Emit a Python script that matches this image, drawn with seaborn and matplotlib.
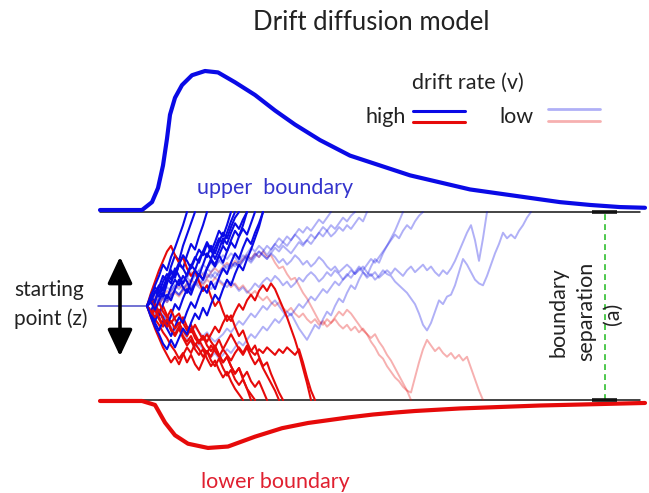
import matplotlib
matplotlib.use("Agg")
import matplotlib.pyplot as plt
import numpy as np
import pandas as pd
import seaborn as sns
from matplotlib.patches import FancyArrowPatch

# ---------------------------------------------------------------
# Model parameters (evidence units: lower bound 0, upper bound a)
# ---------------------------------------------------------------
BOUND_A = 100          # boundary separation (a)
START_Z = 50           # starting point (z)
DT_MS = 8              # sampling step of the evidence traces

# Response-time densities (relative height, upper peak = 1)
UPPER_RT_MS = [-94, -10, 10, 22, 32, 40, 46, 56, 70, 90, 116, 142, 176, 216,
               256, 296, 346, 406, 466, 526, 586, 646, 706, 766, 826, 886,
               946, 996]
UPPER_DENS = [0.014, 0.014, 0.07, 0.17, 0.33, 0.52, 0.69, 0.81, 0.90, 0.97,
              1.0, 0.99, 0.92, 0.83, 0.72, 0.62, 0.51, 0.40, 0.33, 0.26,
              0.21, 0.16, 0.13, 0.10, 0.07, 0.05, 0.035, 0.03]
LOWER_RT_MS = [-94, -10, 16, 36, 56, 82, 122, 162, 216, 270, 322, 402, 452,
               496, 536, 626, 702, 786, 868, 996]
LOWER_DENS = [0.007, 0.007, 0.035, 0.16, 0.25, 0.31, 0.34, 0.33, 0.26, 0.20,
              0.163, 0.124, 0.103, 0.089, 0.078, 0.060, 0.050, 0.039, 0.032,
              0.021]

# Evidence traces, high drift rate, absorbed at the upper bound
HIGH_UP = [
    [50, 55, 52, 60, 66, 63, 71, 77, 74, 82, 88, 94, 100],
    [50, 47, 53, 58, 55, 62, 68, 65, 72, 70, 77, 83, 80, 87, 93, 100],
    [50, 54, 49, 45, 51, 56, 53, 59, 64, 60, 57, 63, 69, 66, 72, 78, 75, 81,
     86, 83, 89, 95, 100],
    [50, 46, 42, 47, 44, 39, 45, 51, 48, 54, 59, 56, 62, 67, 64, 70, 75, 72,
     77, 82, 79, 85, 90, 87, 93, 100],
    [50, 53, 58, 55, 60, 65, 62, 68, 73, 70, 66, 71, 76, 73, 79, 84, 80, 75,
     80, 86, 83, 89, 94, 91, 96, 100],
    [50, 45, 41, 37, 42, 38, 34, 39, 44, 41, 47, 52, 49, 55, 60, 57, 63, 59,
     65, 70, 67, 73, 78, 75, 81, 86, 83, 89, 94, 100],
    [50, 56, 60, 57, 63, 67, 64, 70, 66, 62, 67, 72, 69, 75, 79, 76, 82, 78,
     84, 89, 86, 92, 97, 100],
    [50, 52, 48, 53, 57, 54, 60, 64, 61, 66, 63, 58, 62, 67, 64, 70, 74, 71,
     77, 73, 79, 84, 81, 87, 91, 88, 94, 100],
    [50, 55, 61, 66, 72, 69, 76, 81, 87, 93, 100],
    [50, 44, 39, 35, 30, 27, 32, 28, 33, 38, 35, 41, 46, 43, 49, 45, 51, 56,
     53, 59, 64, 61, 67, 72, 69, 75, 80, 86, 92, 100],
    [50, 53, 57, 61, 58, 64, 69, 66, 72, 77, 74, 70, 75, 80, 77, 83, 79, 84,
     90, 87, 93, 100],
]

# Evidence traces, high drift rate, absorbed at the lower bound
HIGH_DOWN = [
    [50, 45, 48, 43, 39, 42, 37, 34, 38, 33, 29, 32, 27, 24, 27, 22, 18, 21,
     16, 12, 15, 10, 6, 3, 0],
    [50, 54, 51, 47, 50, 45, 41, 44, 46, 41, 37, 40, 35, 31, 34, 29, 26, 29,
     24, 20, 23, 18, 14, 17, 11, 6, 0],
    [50, 57, 63, 69, 74, 79, 82, 77, 73, 76, 70, 66, 69, 63, 58, 61, 55, 50,
     53, 47, 42, 45, 39, 34, 37, 31, 26, 29, 23, 18, 20, 14, 9, 4, 0],
    [50, 47, 43, 40, 36, 33, 29, 26, 22, 25, 20, 24, 19, 16, 21, 26, 23, 28,
     24, 20, 23, 18, 14, 17, 12, 15, 10, 7, 10, 5, 0],
    [50, 44, 38, 33, 28, 24, 20, 23, 19, 24, 28, 25, 30, 27, 23, 26, 21, 18,
     22, 17, 13, 16, 11, 8, 11, 6, 3, 0],
    [50, 53, 49, 52, 47, 44, 48, 43, 40, 44, 39, 36, 40, 36, 32, 35, 31, 28,
     32, 27, 31, 35, 31, 27, 24, 28, 23, 19, 22, 17, 13, 9, 5, 0],
    [50, 47, 44, 48, 43, 39, 42, 38, 41, 37, 34, 38, 33, 30, 34, 31, 35, 39,
     36, 41, 45, 42, 47, 51, 48, 53, 56, 53, 58, 61, 58, 62, 59, 54, 49, 44,
     38, 32, 25, 17, 9, 0],
    [50, 46, 49, 44, 40, 43, 38, 35, 39, 34, 31, 34, 29, 32, 28, 25, 29, 26,
     23, 27, 24, 21, 25, 28, 25, 29, 26, 24, 27, 25, 28, 26, 24, 27, 25, 28,
     26, 24, 27, 20, 12, 5, 0],
]

# Evidence traces, low drift rate, absorbed at the upper bound
LOW_UP = [
    [50, 52, 49, 51, 54, 52, 55, 58, 56, 59, 62, 60, 63, 61, 64, 67, 65, 68,
     66, 69, 72, 70, 73, 71, 74, 77, 75, 78, 76, 79, 82, 80, 83, 86, 84, 87,
     85, 88, 91, 89, 92, 90, 93, 96, 94, 97, 100],
    [50, 53, 51, 54, 57, 55, 58, 61, 59, 62, 65, 63, 66, 69, 67, 70, 68, 71,
     74, 72, 70, 73, 71, 74, 77, 75, 73, 76, 79, 77, 75, 78, 81, 79, 82, 80,
     78, 81, 84, 82, 85, 83, 86, 89, 87, 90, 93, 91, 94, 97, 95, 98, 100],
    [50, 53, 56, 54, 57, 60, 58, 61, 64, 62, 65, 68, 66, 69, 72, 70, 73, 71,
     74, 77, 75, 78, 76, 73, 75, 78, 81, 79, 82, 80, 77, 80, 83, 81, 84, 82,
     85, 88, 86, 83, 85, 88, 86, 89, 92, 90, 87, 89, 92, 90, 93, 91, 94, 97,
     95, 100],
    [50, 48, 46, 48, 45, 43, 45, 42, 40, 42, 39, 37, 39, 36, 34, 36, 33, 31,
     33, 35, 38, 36, 39, 42, 40, 43, 46, 44, 47, 50, 48, 51, 53, 50, 47, 44,
     46, 42, 38, 35, 32, 36, 40, 38, 43, 47, 45, 50, 54, 52, 57, 61, 59, 64,
     68, 66, 71, 75, 73, 78, 82, 86, 90, 95, 100],
    [50, 52, 50, 53, 55, 53, 56, 58, 56, 59, 61, 59, 62, 64, 62, 65, 67, 65,
     68, 70, 68, 71, 73, 71, 74, 76, 74, 77, 79, 77, 75, 78, 76, 73, 75, 72,
     74, 77, 75, 72, 74, 71, 73, 76, 74, 71, 69, 71, 68, 70, 72, 70, 67, 69,
     71, 68, 66, 68, 65, 67, 69, 67, 70, 68, 66, 69, 71, 68, 70, 72, 69, 71,
     68, 66, 69, 67, 70, 74, 79, 84, 89, 93, 85, 74, 86, 100],
    [50, 52, 54, 52, 55, 53, 56, 58, 56, 59, 57, 60, 62, 60, 58, 61, 59, 62,
     64, 62, 60, 63, 61, 58, 60, 57, 59, 62, 60, 63, 65, 63, 66, 64, 61, 63,
     60, 62, 65, 63, 66, 68, 66, 63, 65, 68, 66, 69, 67, 64, 66, 69, 67, 70,
     68, 65, 67, 64, 66, 69, 67, 66, 63, 61, 59, 57, 54, 51, 46, 40, 37, 41,
     47, 53, 51, 55, 56, 61, 68, 75, 72, 68, 64, 62, 61, 66, 72, 78, 83, 89,
     86, 88, 86, 90, 93, 97, 100],
    [50, 48, 45, 43, 45, 42, 39, 37, 39, 36, 33, 31, 28, 30, 27, 25, 23, 25,
     22, 24, 27, 25, 28, 31, 29, 32, 35, 33, 36, 39, 37, 40, 43, 41, 44, 47,
     45, 48, 51, 49, 52, 55, 53, 56, 59, 57, 60, 63, 61, 64, 67, 65, 68, 71,
     69, 72, 75, 73, 76, 79, 82, 85, 88, 86, 90, 93, 91, 95, 98, 100],
]

# Evidence traces, low drift rate, absorbed at the lower bound
LOW_DOWN = [
    [50, 52, 49, 51, 54, 52, 55, 57, 55, 58, 60, 58, 61, 63, 61, 64, 62, 65,
     63, 61, 63, 60, 62, 59, 61, 58, 56, 58, 55, 53, 55, 52, 50, 52, 49, 47,
     49, 46, 44, 46, 43, 41, 43, 40, 42, 39, 41, 43, 40, 38, 40, 37, 39, 36,
     38, 35, 33, 35, 31, 28, 24, 21, 17, 13, 9, 5, 0],
    [50, 52, 55, 53, 56, 58, 56, 59, 61, 59, 62, 64, 62, 65, 67, 65, 68, 70,
     68, 71, 73, 71, 74, 72, 75, 77, 75, 78, 76, 79, 76, 77, 73, 70, 71, 67,
     64, 65, 61, 57, 54, 50, 46, 42, 40, 43, 41, 44, 47, 45, 48, 46, 43, 40,
     37, 35, 31, 28, 24, 22, 18, 15, 12, 10, 7, 5, 4, 12, 20, 27, 32, 29, 26,
     28, 25, 23, 25, 22, 24, 21, 23, 17, 11, 5, 0],
]

# Colours
BLUE = "#0a0ae6"
RED = "#e60a0a"
TEXT = "#222222"


def to_frame(traces, label):
    rows = []
    for k, trace in enumerate(traces):
        for i, v in enumerate(trace):
            rows.append({"trial": f"{label}{k}", "t": i * DT_MS, "v": v})
    return pd.DataFrame(rows)


# Figure layout helpers: pixel position -> data coordinates
def tx(px):
    return (px - 147) * 2


def ev(py):
    return (400 - py) / 1.88


DENS_HEIGHT = 75  # evidence units spanned by a relative density of 1

sns.set_theme(style="white")
plt.rcParams["font.family"] = ["Lato", "DejaVu Sans"]

fig = plt.figure(figsize=(6.49, 4.93), dpi=100)
ax = fig.add_axes([0, 0, 1, 1])
ax.set_xlim(tx(0), tx(649))
ax.set_ylim(ev(493), ev(0))
ax.axis("off")

# Decision boundaries
for b in (BOUND_A, 0):
    ax.plot([tx(100), tx(640)], [b, b], color="#111111", lw=1.1, zorder=2)

# Response-time distributions at each boundary
up = pd.DataFrame({"t": UPPER_RT_MS, "d": BOUND_A + DENS_HEIGHT * np.array(UPPER_DENS)})
lo = pd.DataFrame({"t": LOWER_RT_MS, "d": 0 - DENS_HEIGHT * np.array(LOWER_DENS)})
sns.lineplot(data=up, x="t", y="d", color=BLUE, lw=3.0, ax=ax, sort=False,
             zorder=3, solid_capstyle="round", solid_joinstyle="round")
sns.lineplot(data=lo, x="t", y="d", color=RED, lw=3.0, ax=ax, sort=False,
             zorder=3, solid_capstyle="round", solid_joinstyle="round")

# Low drift traces (faint)
for traces, col, lab in ((LOW_DOWN, RED, "ld"), (LOW_UP, BLUE, "lu")):
    df = to_frame(traces, lab)
    sns.lineplot(data=df, x="t", y="v", units="trial", estimator=None,
                 color=col, lw=1.4, alpha=0.32, ax=ax, sort=False,
                 legend=False, zorder=4)

# High drift traces, interleaved so neither colour sits fully on top
n = max(len(HIGH_UP), len(HIGH_DOWN))
for k in range(n):
    if k < len(HIGH_DOWN):
        df = to_frame([HIGH_DOWN[k]], f"hd{k}_")
        sns.lineplot(data=df, x="t", y="v", units="trial", estimator=None,
                     color=RED, lw=1.5, ax=ax, sort=False, legend=False,
                     zorder=5)
    if k < len(HIGH_UP):
        df = to_frame([HIGH_UP[k]], f"hu{k}_")
        sns.lineplot(data=df, x="t", y="v", units="trial", estimator=None,
                     color=BLUE, lw=1.5, ax=ax, sort=False, legend=False,
                     zorder=5)

# Starting point marker and range arrow
ax.plot([tx(98), 0], [START_Z, START_Z], color="#4a4ac8", lw=1.1, zorder=4)
arrow = FancyArrowPatch((tx(120), ev(254)), (tx(120), ev(359)),
                        arrowstyle="<|-|>,head_length=0.9,head_width=0.42",
                        mutation_scale=18, color="black", lw=2.6, zorder=6)
ax.add_patch(arrow)
ax.text(tx(14), ev(290), "starting", ha="left", va="center", fontsize=15,
        color=TEXT)
ax.text(tx(14), ev(319), "point (z)", ha="left", va="center", fontsize=15,
        color=TEXT)

# Boundary separation
ax.plot([tx(605), tx(605)], [0, BOUND_A], color="#2fbf2f", lw=1.2,
        ls=(0, (3.5, 2.5)), zorder=3)
for b in (BOUND_A, 0):
    ax.plot([tx(592), tx(617)], [b, b], color="#111111", lw=2.6,
            solid_capstyle="butt", zorder=3)
ax.text(tx(558), ev(312), "boundary", rotation=90, ha="center", va="center",
        fontsize=15.5, color=TEXT)
ax.text(tx(586), ev(311), "separation", rotation=90, ha="center",
        va="center", fontsize=15.5, color=TEXT)
ax.text(tx(613), ev(314), "(a)", rotation=90, ha="center", va="center",
        fontsize=15.5, color=TEXT)

# Boundary labels
ax.text(tx(275), ev(188), "upper  boundary", ha="center", va="center",
        fontsize=15.5, color="#3434cc")
ax.text(tx(275), ev(482), "lower boundary", ha="center", va="center",
        fontsize=15.5, color="#e02030")

# Legend: drift rate
ax.text(tx(468), ev(83), "drift rate (v)", ha="center", va="center",
        fontsize=15.5, color=TEXT)
ax.text(tx(406), ev(117), "high", ha="right", va="center", fontsize=15.5,
        color=TEXT)
ax.text(tx(516), ev(117), "low", ha="center", va="center", fontsize=15.5,
        color=TEXT)
ax.plot([tx(413), tx(465)], [ev(111), ev(111)], color=BLUE, lw=2.2)
ax.plot([tx(413), tx(465)], [ev(122), ev(122)], color=RED, lw=2.2)
ax.plot([tx(548), tx(600)], [ev(109), ev(109)], color=BLUE, lw=2.0, alpha=0.32)
ax.plot([tx(548), tx(600)], [ev(121), ev(121)], color=RED, lw=2.0, alpha=0.32)

# Title
ax.text(tx(371), ev(23), "Drift diffusion model", ha="center", va="center",
        fontsize=18.5, color=TEXT)

fig.savefig("out.png", dpi=100)
